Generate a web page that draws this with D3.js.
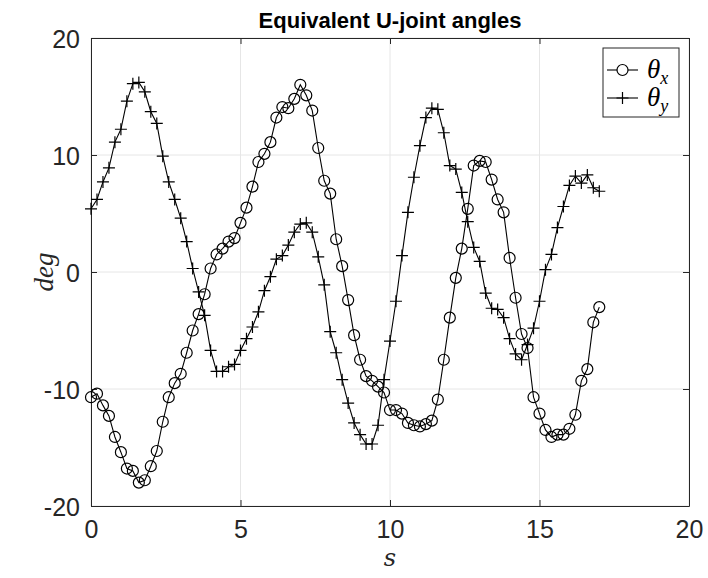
<!DOCTYPE html>
<html>
<head>
<meta charset="utf-8">
<script src="https://cdn.jsdelivr.net/npm/d3@7"></script>
<style>
  body { margin: 0; background: #fff; }
  svg { display: block; }
</style>
</head>
<body>
<svg id="chart" width="708" height="578"></svg>
<script>
// sample positions (s)
const s = [
  0.0, 0.2, 0.4, 0.6, 0.8, 1.0, 1.2, 1.4, 1.6, 1.8,
  2.0, 2.2, 2.4, 2.6, 2.8, 3.0, 3.2, 3.4, 3.6, 3.8,
  4.0, 4.2, 4.4, 4.6, 4.8, 5.0, 5.2, 5.4, 5.6, 5.8,
  6.0, 6.2, 6.4, 6.6, 6.8, 7.0, 7.2, 7.4, 7.6, 7.8,
  8.0, 8.2, 8.4, 8.6, 8.8, 9.0, 9.2, 9.4, 9.6, 9.8,
  10.0, 10.2, 10.4, 10.6, 10.8, 11.0, 11.2, 11.4, 11.6, 11.8,
  12.0, 12.2, 12.4, 12.6, 12.8, 13.0, 13.2, 13.4, 13.6, 13.8,
  14.0, 14.2, 14.4, 14.6, 14.8, 15.0, 15.2, 15.4, 15.6, 15.8,
  16.0, 16.2, 16.4, 16.6, 16.8, 17.0
]

const thetaX = [
  -10.7, -10.4, -11.4, -12.3, -14.1, -15.4, -16.8, -17.0, -18.0, -17.8,
  -16.6, -15.3, -12.8, -10.7, -9.5, -8.7, -6.9, -5.0, -3.6, -1.9,
  0.3, 1.5, 2.0, 2.6, 2.9, 4.2, 5.5, 7.3, 9.4, 10.1,
  11.1, 13.2, 14.1, 14.0, 14.8, 16.0, 15.1, 13.8, 10.6, 7.8,
  6.7, 2.8, 0.5, -2.4, -5.4, -7.5, -8.9, -9.3, -9.8, -10.3,
  -11.8, -11.8, -12.1, -12.9, -13.1, -13.2, -13.0, -12.7, -10.9, -7.5,
  -3.9, -0.5, 2.0, 5.4, 9.1, 9.5, 9.4, 7.9, 6.2, 5.1,
  1.2, -2.2, -5.3, -6.5, -10.7, -12.1, -13.5, -14.1, -13.9, -13.9,
  -13.4, -12.2, -9.3, -8.3, -4.3, -3.0
]

const thetaY = [
  5.4, 6.2, 7.7, 8.9, 11.1, 12.2, 14.6, 16.1, 16.2, 15.4,
  13.7, 12.7, 9.9, 7.7, 6.2, 4.6, 2.6, 0.3, -1.7, -3.7,
  -6.7, -8.5, -8.5, -8.1, -7.9, -6.7, -5.7, -4.7, -3.4, -1.6,
  -0.4, 1.1, 1.4, 2.3, 3.4, 4.1, 4.2, 3.4, 1.3, -1.1,
  -5.1, -6.9, -9.2, -11.2, -12.9, -13.9, -14.7, -14.7, -13.1, -9.2,
  -5.9, -2.5, 1.4, 5.1, 8.1, 10.8, 13.2, 14.0, 13.9, 11.9,
  9.1, 8.8, 6.8, 4.3, 2.1, 0.9, -1.8, -3.1, -3.2, -3.9,
  -5.7, -7.0, -7.5, -6.2, -4.8, -2.5, 0.2, 1.5, 3.8, 5.6,
  7.4, 8.2, 7.6, 8.3, 7.2, 6.9
]

const xTicks = [0, 5, 10, 15, 20]
const yTicks = [-20, -10, 0, 10, 20]

const margin = { top: 38, right: 19, bottom: 72, left: 91 }
const width = 708, height = 578
const axisColor = '#262626'
const gridColor = '#e6e6e6'

const svg = d3.select('#chart')

const x = d3.scaleLinear().domain([0, 20]).range([margin.left, width - margin.right])
const y = d3.scaleLinear().domain([-20, 20]).range([height - margin.bottom, margin.top])

// grid
const grid = svg.append('g')
grid.selectAll('line.gx').data(xTicks).join('line')
  .attr('class', 'gx')
  .attr('x1', d => x(d)).attr('x2', d => x(d))
  .attr('y1', y(-20)).attr('y2', y(20))
  .attr('stroke', gridColor).attr('stroke-width', 1)
grid.selectAll('line.gy').data(yTicks).join('line')
  .attr('class', 'gy')
  .attr('x1', x(0)).attr('x2', x(20))
  .attr('y1', d => y(d)).attr('y2', d => y(d))
  .attr('stroke', gridColor).attr('stroke-width', 1)

// axes (ticks inward, box on all sides); plain hyphen for negatives like MATLAB
const fmt = d => String(d)
const tickLen = 6
const axBottom = svg.append('g').attr('transform', `translate(0,${y(-20)})`)
  .call(d3.axisBottom(x).tickValues(xTicks).tickFormat(fmt).tickSizeInner(-tickLen).tickSizeOuter(0).tickPadding(14))
const axTop = svg.append('g').attr('transform', `translate(0,${y(20)})`)
  .call(d3.axisTop(x).tickValues(xTicks).tickSizeInner(-tickLen).tickSizeOuter(0).tickFormat(''))
const axLeft = svg.append('g').attr('transform', `translate(${x(0)},0)`)
  .call(d3.axisLeft(y).tickValues(yTicks).tickFormat(fmt).tickSizeInner(-tickLen).tickSizeOuter(0).tickPadding(11))
const axRight = svg.append('g').attr('transform', `translate(${x(20)},0)`)
  .call(d3.axisRight(y).tickValues(yTicks).tickSizeInner(-tickLen).tickSizeOuter(0).tickFormat(''))

for (const a of [axBottom, axTop, axLeft, axRight]) {
  a.select('.domain').attr('stroke', axisColor).attr('stroke-width', 1)
  a.selectAll('.tick line').attr('stroke', axisColor).attr('stroke-width', 1)
  a.selectAll('.tick text')
    .attr('fill', axisColor)
    .style('font-family', '"Liberation Sans", Arial, sans-serif')
    .style('font-size', '25px')
}
axLeft.selectAll('.tick text').attr('dy', '0.36em')

// lines + markers
const line = d3.line().x(d => x(d[0])).y(d => y(d[1]))
const seriesX = s.map((v, i) => [v, thetaX[i]])
const seriesY = s.map((v, i) => [v, thetaY[i]])

const plot = svg.append('g')
plot.append('path').datum(seriesX)
  .attr('d', line).attr('fill', 'none').attr('stroke', '#000').attr('stroke-width', 1.1)
plot.append('path').datum(seriesY)
  .attr('d', line).attr('fill', 'none').attr('stroke', '#000').attr('stroke-width', 1.1)

const markR = 5.5
plot.selectAll('circle.mx').data(seriesX).join('circle')
  .attr('class', 'mx')
  .attr('cx', d => x(d[0])).attr('cy', d => y(d[1]))
  .attr('r', markR).attr('fill', 'none').attr('stroke', '#000').attr('stroke-width', 1.2)

const plusSize = 6
plot.selectAll('path.my').data(seriesY).join('path')
  .attr('class', 'my')
  .attr('d', d => {
    const cx = x(d[0]), cy = y(d[1])
    return `M${cx - plusSize},${cy}H${cx + plusSize}M${cx},${cy - plusSize}V${cy + plusSize}`
  })
  .attr('fill', 'none').attr('stroke', '#000').attr('stroke-width', 1.2)

// title and labels
svg.append('text')
  .attr('x', (x(0) + x(20)) / 2).attr('y', 28)
  .attr('text-anchor', 'middle')
  .style('font-family', '"Liberation Sans", Arial, sans-serif')
  .style('font-weight', 'bold').style('font-size', '22px')
  .attr('fill', '#000')
  .text('Equivalent U-joint angles')

svg.append('text')
  .attr('x', (x(0) + x(20)) / 2).attr('y', 566)
  .attr('text-anchor', 'middle')
  .style('font-family', '"DejaVu Serif", "Liberation Serif", serif')
  .style('font-style', 'italic').style('font-size', '24px')
  .attr('fill', axisColor)
  .text('s')

svg.append('text')
  .attr('transform', `translate(53,${(y(-20) + y(20)) / 2}) rotate(-90)`)
  .attr('text-anchor', 'middle')
  .style('font-family', '"Liberation Serif", "DejaVu Serif", serif')
  .style('font-style', 'italic').style('font-size', '27px')
  .attr('fill', axisColor)
  .text('deg')

// legend
const legend = svg.append('g').attr('transform', `translate(${x(20) - 86},48)`)
legend.append('rect')
  .attr('width', 76).attr('height', 69)
  .attr('fill', '#fff').attr('stroke', axisColor).attr('stroke-width', 1)

const legendItems = [
  { key: 'x', marker: 'circle' },
  { key: 'y', marker: 'plus' }
]
const items = legend.selectAll('g.item').data(legendItems).join('g')
  .attr('class', 'item')
  .attr('transform', (d, i) => `translate(0,${22 + i * 28})`)
items.append('line')
  .attr('x1', 4).attr('x2', 35).attr('y1', 0).attr('y2', 0)
  .attr('stroke', '#000').attr('stroke-width', 1.1)
items.filter(d => d.marker === 'circle').append('circle')
  .attr('cx', 19.5).attr('cy', 0).attr('r', markR)
  .attr('fill', '#fff').attr('stroke', '#000').attr('stroke-width', 1.2)
items.filter(d => d.marker === 'plus').append('path')
  .attr('d', `M${19.5 - plusSize},0H${19.5 + plusSize}M19.5,${-plusSize}V${plusSize}`)
  .attr('stroke', '#000').attr('stroke-width', 1.2)
const lt = items.append('text')
  .attr('x', 44).attr('y', 8)
  .style('font-family', '"Liberation Serif", "DejaVu Serif", serif')
  .style('font-style', 'italic').style('font-size', '27px')
  .attr('fill', '#000')
lt.append('tspan').text('θ')
lt.append('tspan').attr('dy', 6).style('font-size', '18px').text(d => d.key)
</script>
</body>
</html>
